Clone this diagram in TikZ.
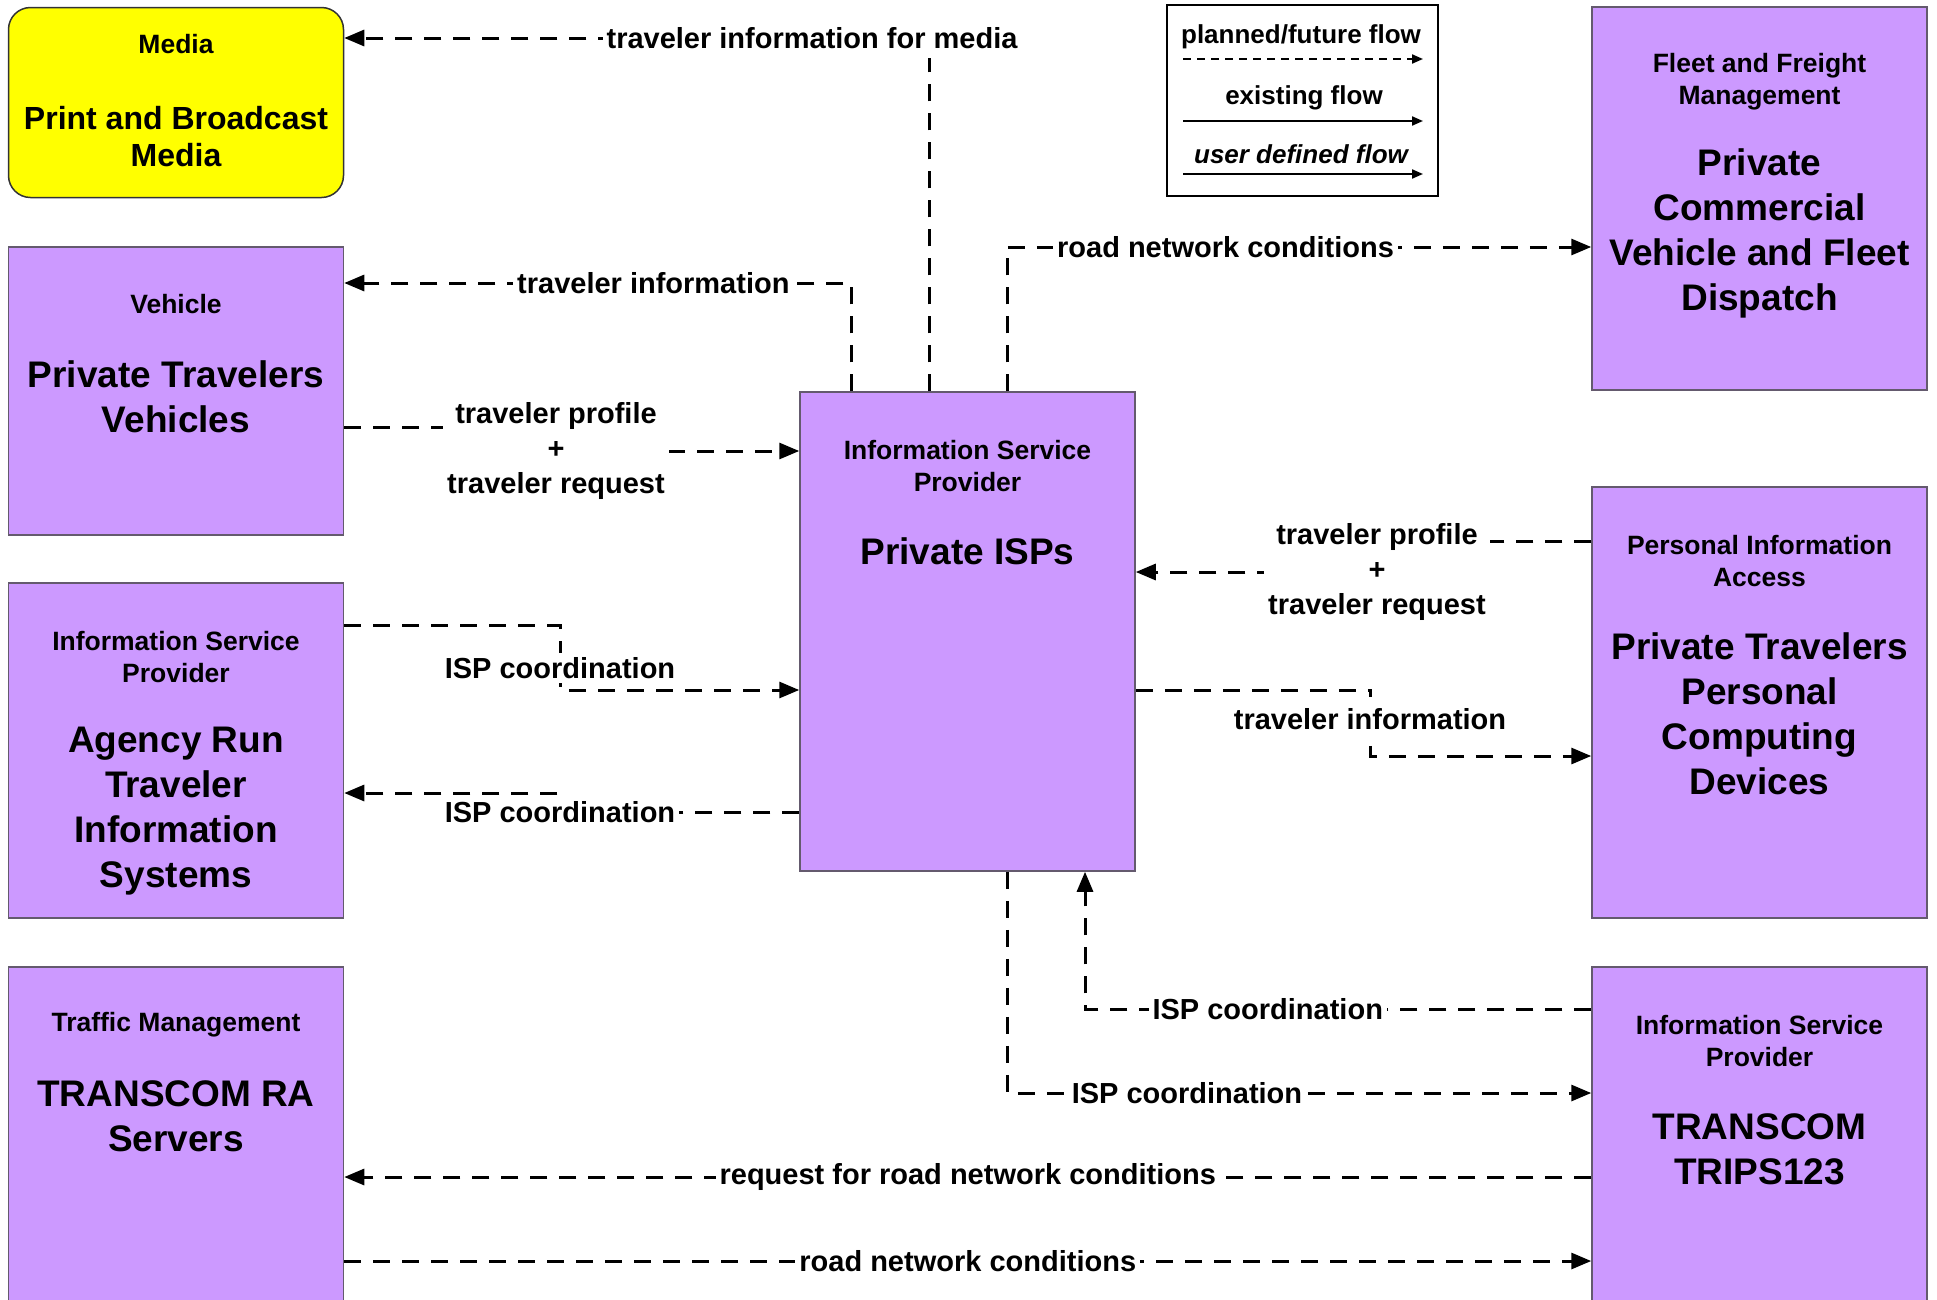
\documentclass[tikz,border=0pt]{standalone}
\usepackage{fontspec}
\setmainfont{Liberation Sans}
\usetikzlibrary{arrows.meta}

\definecolor{boxpurple}{RGB}{204,153,255}
\definecolor{boxedge}{RGB}{100,90,110}
\definecolor{mediayellow}{RGB}{255,255,0}

\newcommand{\boxtagfont}{\fontsize{26.5}{32}\selectfont\bfseries}
\newcommand{\boxnamefont}{\fontsize{37}{45}\selectfont\bfseries}
\newcommand{\flowlabelfont}{\fontsize{29}{35}\selectfont\bfseries}

\begin{document}
\begin{tikzpicture}[x=1pt, y=-1pt]
\useasboundingbox (0,0) rectangle (1937,1299);

\begin{scope}[
    every node/.style={rectangle,draw=boxedge,line width=1.5pt,fill=boxpurple,inner sep=0pt,minimum width=335pt}]
    \node (media) at (176,102.5) [fill=mediayellow,draw=black!80,rounded corners=22pt,minimum height=190pt] {};
    \node (vehicle) at (176,391) [minimum height=288pt] {};
    \node (agency) at (176,750.5) [minimum height=335pt] {};
    \node (traffic) at (176,1140) [minimum height=346pt] {};

    % % center
    \node (isp) at (967.5,631.5) [minimum height=479pt] {};

    % % right column
    \node (fleet) at (1759.5,198.5) [minimum height=383pt] {};
    \node (personal) at (1759.5,702.5) [minimum height=431pt] {};
    \node (trips) at (1759.5,1140) [minimum height=346pt] {};
\end{scope}

\begin{scope}[
    every node/.style={align=center,inner sep=0pt,font=\boxnamefont}]
    \node (mediaTag) at (176,44.5) [font=\boxtagfont] {Media};
    \node (mediaName) at (176,137) [font=\fontsize{32}{37}\selectfont\bfseries] {Print and Broadcast\\Media};
    \node (vehicleTag) at (176,304) [font=\boxtagfont] {Vehicle};
    \node (vehicleName) at (176,396.5) {Private Travelers\\Vehicles};
    \node (agencyTag) at (176,657) [font=\boxtagfont] {Information Service\\Provider};
    \node (agencyName) at (176,811) {Agency Run\\Traveler\\Information\\Systems};
    \node (trafficTag) at (176,1025) [font=\boxtagfont] {Traffic Management};
    \node (trafficName) at (176,1116.5) {TRANSCOM RA\\Servers};

    \node (ispTag) at (967.5,466) [font=\boxtagfont] {Information Service\\Provider};
    \node (ispName) at (967.5,551) {Private ISPs};

    \node (fleetTag) at (1759.5,81.5) [font=\boxtagfont] {Fleet and Freight\\Management};
    \node (fleetName) at (1759.5,233.5) {Private\\Commercial\\Vehicle and Fleet\\Dispatch};
    \node (personalTag) at (1759.5,561) [font=\boxtagfont] {Personal Information\\Access};
    \node (personalName) at (1759.5,714) {Private Travelers\\Personal\\Computing\\Devices};
    \node (tripsTag) at (1759.5,1041) [font=\boxtagfont] {Information Service\\Provider};
    \node (tripsName) at (1759.5,1149) {TRANSCOM\\TRIPS123};
\end{scope}

% % legend
\begin{scope}[>={Triangle[length=11pt,width=9pt]},
              every node/.style={inner sep=0pt,font=\fontsize{26}{30}\selectfont\bfseries}]
    \node (legend) at (1302.5,100.5) [draw=black,line width=2.5pt,minimum width=271pt,minimum height=191pt] {};
    \node (legPlanned) at (1301,37) {planned/future flow};
    \node (legExisting) at (1304,98) {existing flow};
    \node (legUser) at (1301,154) [font=\fontsize{26}{30}\selectfont\bfseries\itshape] {user defined flow};
    \coordinate (lg1) at (1183,59);
    \coordinate (lg2) at (1183,121);
    \coordinate (lg3) at (1183,174);
    \draw [->,line width=2pt,dash pattern=on 8pt off 6pt] (lg1) -- ++(240,0);
    \draw [->,line width=2pt] (lg2) -- ++(240,0);
    \draw [->,line width=2pt] (lg3) -- ++(240,0);
\end{scope}

\begin{scope}[>={Triangle[length=20pt,width=16pt]},
              every node/.style={fill=white,inner xsep=4pt,inner ysep=9pt,align=center,font=\flowlabelfont},
              flow/.style={->,line width=3pt,dash pattern=on 17pt off 12pt}]
    \coordinate (m1) at (929,38);
    \draw [flow] (m1 |- isp.north) -- (m1) -- node[pos=0.2] (lblMedia) {traveler information for media} (m1 -| media.east);

    \coordinate (v1) at (851,283);
    \draw [flow] (v1 |- isp.north) -- (v1) -- node[pos=0.39] (lblVehInfo) {traveler information} (v1 -| vehicle.east);

    \coordinate (f1) at (1007,247);
    \draw [flow] (f1 |- isp.north) -- (f1) -- node[pos=0.374] (lblFleet) {road network conditions} (f1 -| fleet.west);

    \coordinate (p1) at (556,427);
    \coordinate (p2) at (556,451);
    \draw [flow] (p1 -| vehicle.east) -- (p1) -- (p2) node (lblVehReq) {traveler profile\\+\\traveler request} -- (p2 -| isp.west);

    % % agency
    \coordinate (a1) at (560,625);
    \coordinate (a5) at (560,668);
    \coordinate (a2) at (560,690);
    \draw [flow] (a1 -| agency.east) -- (a1) -- (a5) node[inner ysep=4pt] (lblAgencyIn) {ISP coordination} -- (a2) -- (a2 -| isp.west);
    \coordinate (a3) at (560,812);
    \coordinate (a4) at (560,793);
    \draw [flow] (a3 -| isp.west) -- (a3) node[inner ysep=2pt] (lblAgencyOut) {ISP coordination} -- (a4) -- (a4 -| agency.east);

    % % personal devices
    \coordinate (q1) at (1377,541);
    \coordinate (q2) at (1377,572);
    \draw [flow] (q1 -| personal.west) -- (q1) -- (q2) node (lblPersReq) {traveler profile\\+\\traveler request} -- (q2 -| isp.east);
    \coordinate (q3) at (1370,690);
    \coordinate (q5) at (1370,719);
    \coordinate (q4) at (1370,756);
    \draw [flow] (q3 -| isp.east) -- (q3) -- (q5) node[inner ysep=11pt] (lblPersInfo) {traveler information} -- (q4) -- (q4 -| personal.west);

    % % TRIPS
    \coordinate (t1) at (1007,1093);
    \draw [flow] (t1 |- isp.south) -- (t1) -- node[pos=0.308] (lblTripsOut) {ISP coordination} (t1 -| trips.west);
    \coordinate (t2) at (1085,1009);
    \draw [flow] (t2 -| trips.west) -- node[pos=0.639] (lblTripsIn) {ISP coordination} (t2) -- (t2 |- isp.south);

    \coordinate (r1) at (0,1177);
    \draw [flow] (r1 -| trips.west) -- node (lblRequest) {request for road network conditions} (r1 -| traffic.east);
    \coordinate (r2) at (0,1261);
    \draw [flow] (r2 -| traffic.east) -- node (lblRoad) {road network conditions} (r2 -| trips.west);
\end{scope}
\end{tikzpicture}
\end{document}
